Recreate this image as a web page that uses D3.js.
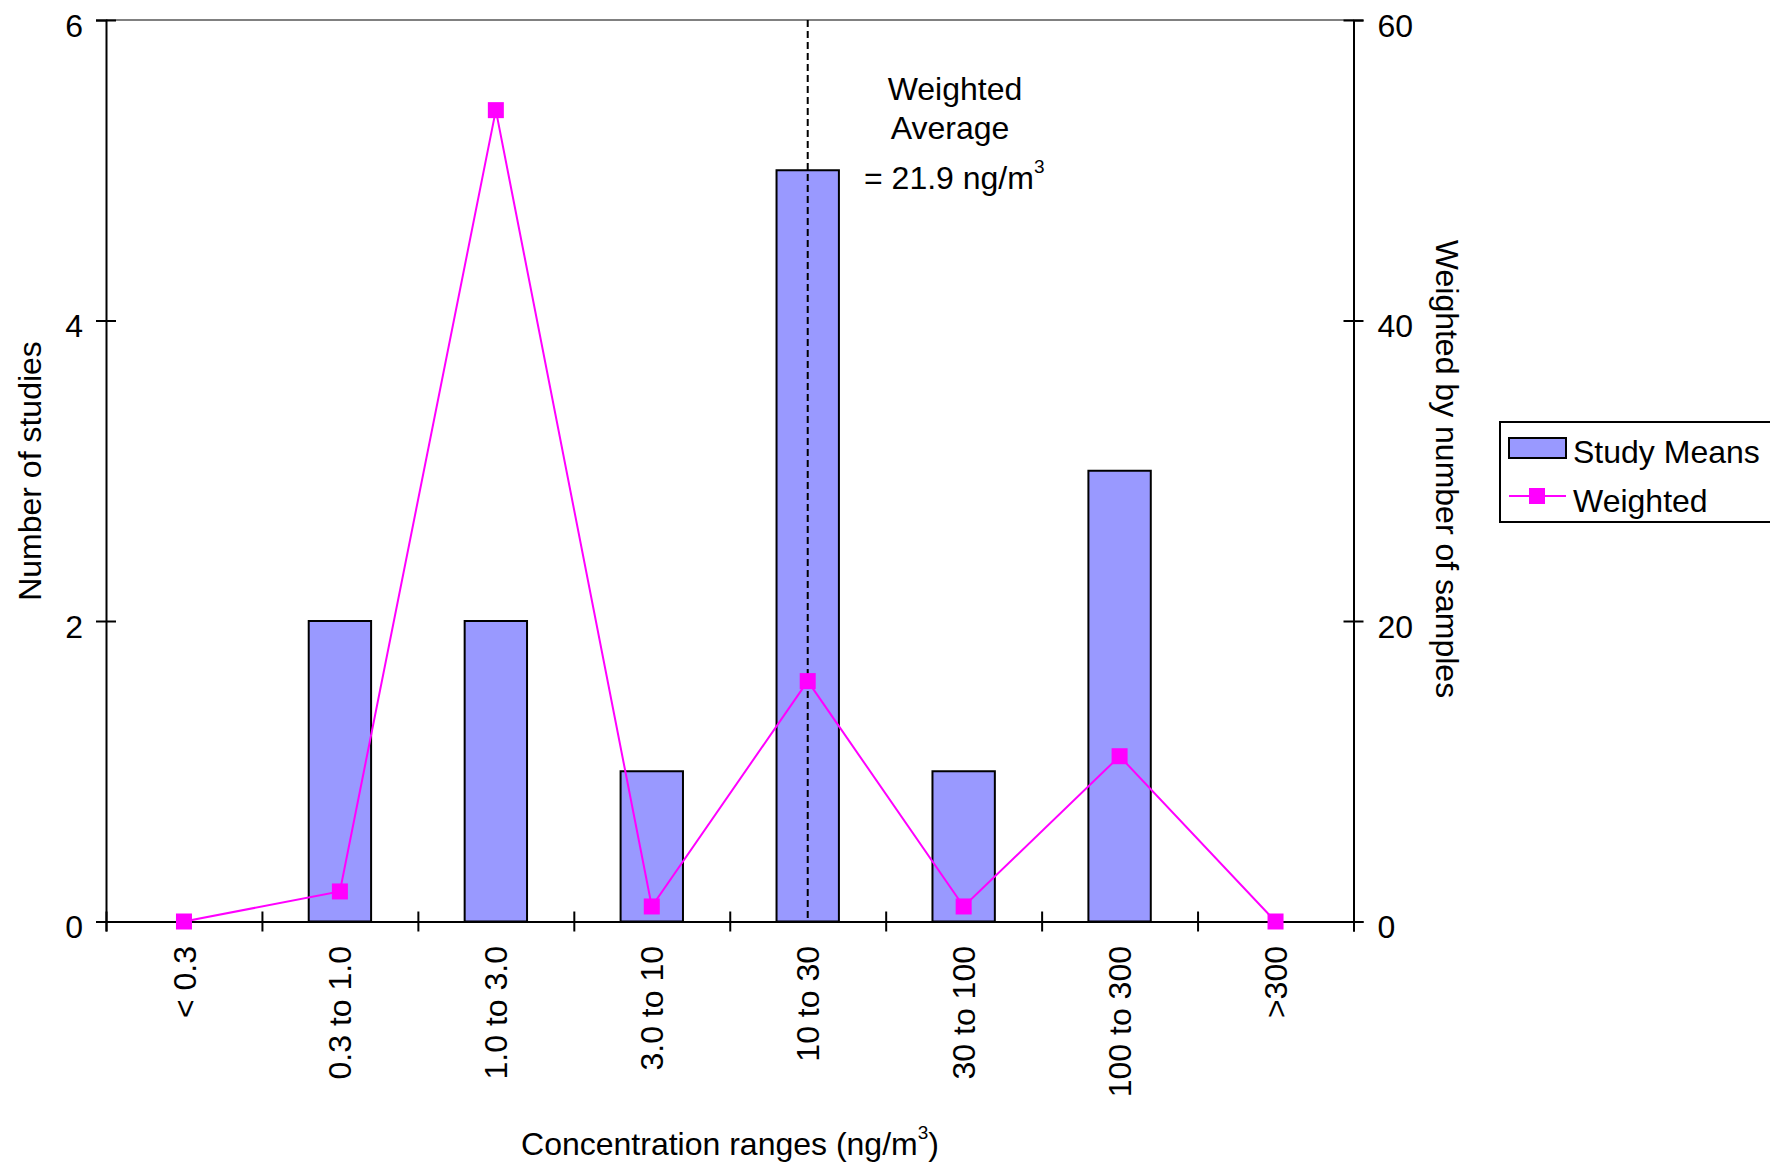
<!DOCTYPE html>
<html>
<head>
<meta charset="utf-8">
<script src="https://cdn.jsdelivr.net/npm/d3@7"></script>
<style>
  html, body { margin: 0; padding: 0; background: #fff; }
  svg { display: block; }
  text { font-family: "Liberation Sans", Arial, sans-serif; fill: #000; }
</style>
</head>
<body>
<svg id="chart" width="1770" height="1166"></svg>
<script>
const categories = ["< 0.3", "0.3 to 1.0", "1.0 to 3.0", "3.0 to 10", "10 to 30", "30 to 100", "100 to 300", ">300"];
const studyMeans = [0, 2, 2, 1, 5, 1, 3, 0];
const weighted = [0, 2, 54, 1, 16, 1, 11, 0];
const leftTicks = [0, 2, 4, 6];
const rightTicks = [0, 20, 40, 60];
const averageCategory = "10 to 30";
const annotationLines = ["Weighted", "Average"];
const annotationValue = "= 21.9 ng/m";

const FS = 32;
const svg = d3.select("#chart");

const L = 106, R = 1353.5, T = 20, B = 921.5;

const x = d3.scaleBand().domain(categories).range([L, R]).padding(0);
const xEdge = d3.scaleLinear().domain([0, categories.length]).range([L, R]);
const yL = d3.scaleLinear().domain([0, 6]).range([B, T]);
const yR = d3.scaleLinear().domain([0, 60]).range([B, T]);

// top border (gray)
svg.append("line")
  .attr("x1", L).attr("x2", R).attr("y1", T).attr("y2", T)
  .attr("stroke", "#808080").attr("stroke-width", 2);

function styleAxis(g) {
  g.select(".domain").attr("stroke", "#000").attr("stroke-width", 2);
  g.selectAll(".tick line").attr("stroke", "#000").attr("stroke-width", 2);
  g.selectAll(".tick text").style("font-size", FS + "px").attr("fill", "#000")
    .style("font-family", "'Liberation Sans', Arial, sans-serif");
}

// left axis
const gL = svg.append("g").attr("transform", `translate(${L},0)`)
  .call(d3.axisLeft(yL).tickValues(leftTicks).tickFormat(d3.format("d")).tickSizeOuter(0).tickSize(10).tickPadding(13));
styleAxis(gL);
gL.selectAll(".tick line").attr("x1", 10).attr("x2", -10);
gL.selectAll(".tick text").attr("dy", "0.5em");

// right axis
const gR = svg.append("g").attr("transform", `translate(${R},0)`)
  .call(d3.axisRight(yR).tickValues(rightTicks).tickFormat(d3.format("d")).tickSizeOuter(0).tickSize(10).tickPadding(14));
styleAxis(gR);
gR.selectAll(".tick line").attr("x1", -10).attr("x2", 10);
gR.selectAll(".tick text").attr("dy", "0.5em");

// bottom axis (ticks at category boundaries)
const gB = svg.append("g").attr("transform", `translate(0,${B})`)
  .call(d3.axisBottom(xEdge).tickValues(d3.range(categories.length + 1)).tickFormat("").tickSizeOuter(0).tickSize(10));
styleAxis(gB);
gB.selectAll(".tick line").attr("y1", -10).attr("y2", 10);

// category labels
svg.append("g").selectAll("text").data(categories).join("text")
  .attr("transform", d => `translate(${x(d) + x.bandwidth() / 2},946) rotate(-90)`)
  .attr("text-anchor", "end")
  .attr("dy", "0.36em")
  .style("font-size", FS + "px")
  .text(d => d);

// bars
const barW = x.bandwidth() * 0.4;
svg.append("g").selectAll("rect").data(studyMeans).join("rect")
  .attr("x", (d, i) => x(categories[i]) + x.bandwidth() / 2 - barW / 2)
  .attr("width", barW)
  .attr("y", d => yL(d))
  .attr("height", d => yL(0) - yL(d))
  .attr("fill", "#9999FF")
  .attr("stroke", "#000").attr("stroke-width", 2)
  .style("display", d => d > 0 ? null : "none");

// dashed weighted average line
const avgX = x(averageCategory) + x.bandwidth() / 2;
svg.append("line")
  .attr("x1", avgX).attr("x2", avgX).attr("y1", T).attr("y2", B)
  .attr("stroke", "#000").attr("stroke-width", 2)
  .attr("stroke-dasharray", "7,4");

// weighted line
const line = d3.line()
  .x((d, i) => x(categories[i]) + x.bandwidth() / 2)
  .y(d => yR(d));
svg.append("path").datum(weighted)
  .attr("d", line)
  .attr("fill", "none")
  .attr("stroke", "#FF00FF").attr("stroke-width", 2);

const MS = 16;
svg.append("g").selectAll("rect").data(weighted).join("rect")
  .attr("x", (d, i) => x(categories[i]) + x.bandwidth() / 2 - MS / 2)
  .attr("y", d => yR(d) - MS / 2)
  .attr("width", MS).attr("height", MS)
  .attr("fill", "#FF00FF");

// annotation
const ann = svg.append("g");
ann.append("text").attr("x", 955).attr("y", 100).attr("text-anchor", "middle")
  .style("font-size", FS + "px").text(annotationLines[0]);
ann.append("text").attr("x", 950).attr("y", 139).attr("text-anchor", "middle")
  .style("font-size", FS + "px").text(annotationLines[1]);
const annV = ann.append("text").attr("x", 864).attr("y", 189)
  .style("font-size", FS + "px");
annV.append("tspan").text(annotationValue);
annV.append("tspan").attr("dy", -16).style("font-size", "19px").text("3");

// axis titles
svg.append("text")
  .attr("transform", `translate(41,471) rotate(-90)`)
  .attr("text-anchor", "middle")
  .style("font-size", FS + "px")
  .text("Number of studies");

svg.append("text")
  .attr("transform", `translate(1436,469) rotate(90)`)
  .attr("text-anchor", "middle")
  .style("font-size", FS + "px")
  .text("Weighted by number of samples");

const xt = svg.append("text")
  .attr("x", 730).attr("y", 1155)
  .attr("text-anchor", "middle")
  .style("font-size", FS + "px");
xt.append("tspan").text("Concentration ranges (ng/m");
xt.append("tspan").attr("dy", -16).style("font-size", "19px").text("3");
xt.append("tspan").attr("dy", 16).text(")");

// legend
const lg = svg.append("g");
lg.append("rect").attr("x", 1500).attr("y", 422).attr("width", 300).attr("height", 100)
  .attr("fill", "#fff").attr("stroke", "#000").attr("stroke-width", 2);
lg.append("rect").attr("x", 1509).attr("y", 438).attr("width", 57).attr("height", 20)
  .attr("fill", "#9999FF").attr("stroke", "#000").attr("stroke-width", 2);
lg.append("text").attr("x", 1573).attr("y", 463).style("font-size", FS + "px").text("Study Means");
lg.append("line").attr("x1", 1509).attr("x2", 1566).attr("y1", 496).attr("y2", 496)
  .attr("stroke", "#FF00FF").attr("stroke-width", 2);
lg.append("rect").attr("x", 1529).attr("y", 488).attr("width", MS).attr("height", MS).attr("fill", "#FF00FF");
lg.append("text").attr("x", 1573).attr("y", 512).style("font-size", FS + "px").text("Weighted");
</script>
</body>
</html>
